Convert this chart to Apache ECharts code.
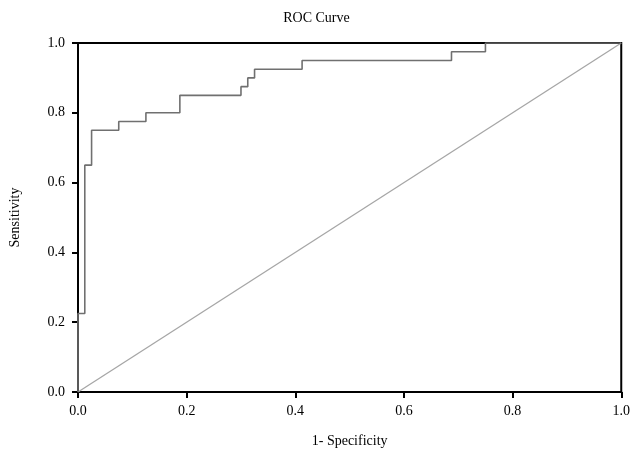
<!DOCTYPE html>
<html>
<head>
<meta charset="utf-8">
<script src="https://cdn.jsdelivr.net/npm/echarts@6/dist/echarts.min.js"></script>
<style>
    html, body { margin: 0; padding: 0; background: #fff; }
    #rocChart { width: 633px; height: 457px; }
</style>
</head>
<body>
<div id="rocChart"></div>
<script>
// ROC corner points (1 - specificity, sensitivity)
const fprValues = [0, 0, 0.0125, 0.0125, 0.025, 0.025, 0.075, 0.075, 0.125, 0.125,
    0.1875, 0.1875, 0.3, 0.3, 0.3125, 0.3125, 0.325, 0.325, 0.4125, 0.4125,
    0.6875, 0.6875, 0.75, 0.75, 1];
const tprValues = [0, 0.225, 0.225, 0.65, 0.65, 0.75, 0.75, 0.775, 0.775, 0.8,
    0.8, 0.85, 0.85, 0.875, 0.875, 0.9, 0.9, 0.925, 0.925, 0.95,
    0.95, 0.975, 0.975, 1, 1];
const refLineX = [0, 1];
const refLineY = [0, 1];

const FONT = 'Liberation Serif';

window.onload = () => {
    let chart = echarts.init(document.getElementById('rocChart'));

    let rocData = fprValues.map((x, i) => [x, tprValues[i]]);
    let refData = refLineX.map((x, i) => [x, refLineY[i]]);

    let axisCommon = {
        type: 'value',
        min: 0,
        max: 1,
        interval: 0.2,
        nameLocation: 'middle',
        nameTextStyle: { fontFamily: FONT, fontSize: 14, color: '#000' },
        axisLine: { show: true, lineStyle: { color: '#000', width: 2 } },
        axisTick: { show: true, inside: false, length: 6, lineStyle: { color: '#000', width: 2 } },
        axisLabel: {
            fontFamily: FONT, fontSize: 14, color: '#000',
            formatter: v => v.toFixed(1)
        },
        splitLine: { show: false }
    };

    let option = {
        animation: false,
        title: {
            text: 'ROC Curve',
            left: 'center',
            top: 6,
            textStyle: { fontFamily: FONT, fontSize: 14, fontWeight: 'normal', color: '#000' }
        },
        grid: {
            left: 77,
            right: 9,
            top: 43,
            bottom: 65,
            show: true,
            borderColor: '#000',
            borderWidth: 2
        },
        xAxis: Object.assign({}, axisCommon, {
            name: '1- Specificity',
            nameGap: 42,
            axisLabel: Object.assign({}, axisCommon.axisLabel, { margin: 12 })
        }),
        yAxis: Object.assign({}, axisCommon, {
            name: 'Sensitivity',
            nameGap: 56,
            axisLabel: Object.assign({}, axisCommon.axisLabel, { margin: 13 })
        }),
        series: [
            {
                type: 'line',
                data: refData,
                symbol: 'none',
                silent: true,
                lineStyle: { color: '#a6a6a6', width: 1.3 }
            },
            {
                type: 'line',
                data: rocData,
                symbol: 'none',
                lineStyle: { color: '#707070', width: 1.6 }
            }
        ]
    };

    chart.setOption(option);
};
</script>
</body>
</html>
